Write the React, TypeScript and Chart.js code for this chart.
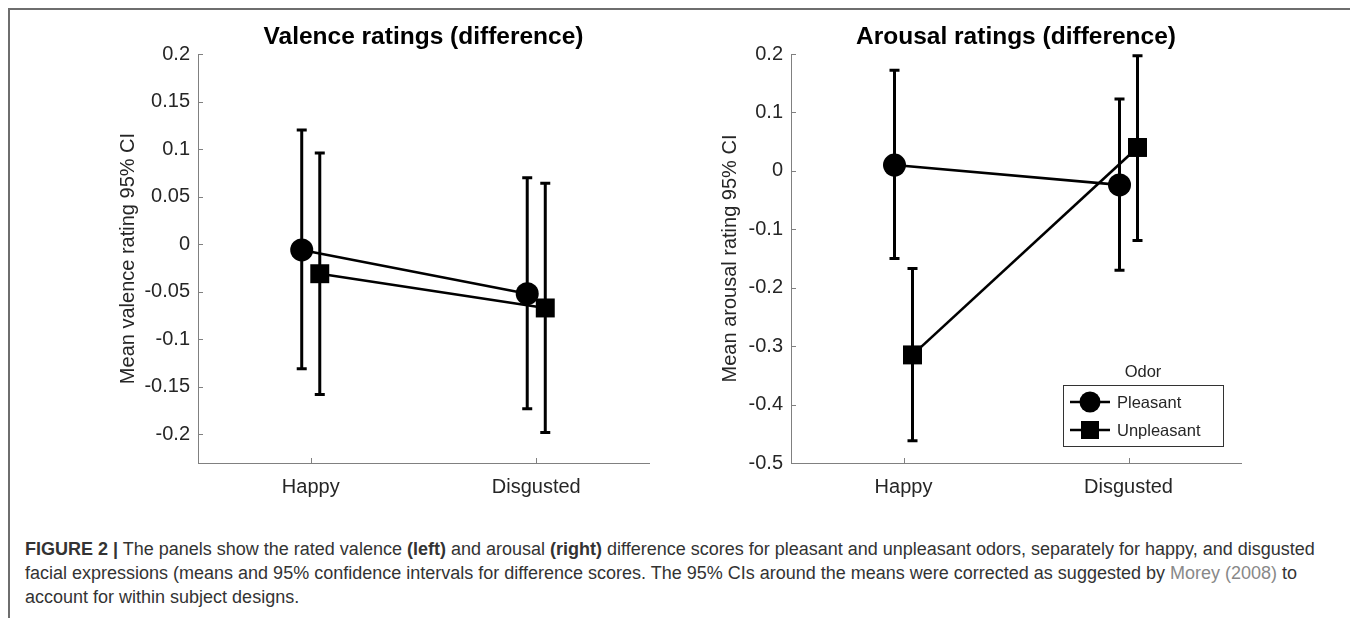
import React, { useEffect, useRef } from "react";
import { Chart, registerables } from "chart.js";

Chart.register(...registerables);

// ---------- data ----------
const CATEGORIES = ["Happy", "Disgusted"];
const CATEGORY_POS = [1, 2];
const X_MIN = 0.5;
const X_MAX = 2.5;
const GROUP_OFFSET = [-0.04, 0.04];
const SERIES_NAMES = ["Pleasant", "Unpleasant"];
const LEGEND_TITLE = "Odor";

const VALENCE_PLEASANT_MEAN = [-0.006, -0.052];
const VALENCE_PLEASANT_LOW = [-0.131, -0.173];
const VALENCE_PLEASANT_HIGH = [0.12, 0.07];
const VALENCE_UNPLEASANT_MEAN = [-0.031, -0.067];
const VALENCE_UNPLEASANT_LOW = [-0.158, -0.198];
const VALENCE_UNPLEASANT_HIGH = [0.096, 0.064];

const AROUSAL_PLEASANT_MEAN = [0.01, -0.024];
const AROUSAL_PLEASANT_LOW = [-0.15, -0.17];
const AROUSAL_PLEASANT_HIGH = [0.172, 0.123];
const AROUSAL_UNPLEASANT_MEAN = [-0.315, 0.04];
const AROUSAL_UNPLEASANT_LOW = [-0.462, -0.119];
const AROUSAL_UNPLEASANT_HIGH = [-0.167, 0.197];

const VALENCE_TICKS = [-0.2, -0.15, -0.1, -0.05, 0, 0.05, 0.1, 0.15, 0.2];
const VALENCE_TICK_LABELS = ["-0.2", "-0.15", "-0.1", "-0.05", "0", "0.05", "0.1", "0.15", "0.2"];
const VALENCE_Y_MIN = -0.23;
const VALENCE_Y_MAX = 0.2;

const AROUSAL_TICKS = [-0.5, -0.4, -0.3, -0.2, -0.1, 0, 0.1, 0.2];
const AROUSAL_TICK_LABELS = ["-0.5", "-0.4", "-0.3", "-0.2", "-0.1", "0", "0.1", "0.2"];
const AROUSAL_Y_MIN = -0.5;
const AROUSAL_Y_MAX = 0.2;

// ---------- styles ----------
const FONT = '"Liberation Sans", Arial, Helvetica, sans-serif';
const AXIS_COLOR = "#808080";
const TEXT_COLOR = "#262626";
const CAP = 5;

const errorBarPlugin = {
  id: "errorBars",
  beforeDatasetsDraw(chart: any) {
    const { ctx } = chart;
    const xs = chart.scales.x;
    const ys = chart.scales.y;
    ctx.save();
    ctx.strokeStyle = "#000";
    ctx.lineWidth = 3;
    chart.data.datasets.forEach((ds: any) => {
      ds.data.forEach((pt: any, i: number) => {
        const px = xs.getPixelForValue(pt.x);
        const yl = ys.getPixelForValue(ds.errLow[i]);
        const yh = ys.getPixelForValue(ds.errHigh[i]);
        ctx.beginPath();
        ctx.moveTo(px, yl);
        ctx.lineTo(px, yh);
        ctx.moveTo(px - CAP, yl);
        ctx.lineTo(px + CAP, yl);
        ctx.moveTo(px - CAP, yh);
        ctx.lineTo(px + CAP, yh);
        ctx.stroke();
      });
    });
    ctx.restore();
  },
};

const inwardTicksPlugin = {
  id: "inwardTicks",
  beforeDatasetsDraw(chart: any) {
    const { ctx, chartArea } = chart;
    const xs = chart.scales.x;
    const ys = chart.scales.y;
    ctx.save();
    ctx.strokeStyle = AXIS_COLOR;
    ctx.lineWidth = 1;
    ctx.beginPath();
    xs.ticks.forEach((t: any) => {
      const px = Math.round(xs.getPixelForValue(t.value)) + 0.5;
      ctx.moveTo(px, chartArea.bottom);
      ctx.lineTo(px, chartArea.bottom - 5);
    });
    ys.ticks.forEach((t: any) => {
      const py = Math.round(ys.getPixelForValue(t.value)) + 0.5;
      ctx.moveTo(chartArea.left, py);
      ctx.lineTo(chartArea.left + 5, py);
    });
    ctx.stroke();
    ctx.restore();
  },
};

const panelTitlePlugin = {
  id: "panelTitle",
  afterDraw(chart: any, _args: any, opts: any) {
    const { ctx, chartArea } = chart;
    ctx.save();
    ctx.font = `bold 24.5px ${FONT}`;
    ctx.fillStyle = "#000";
    ctx.textAlign = "center";
    ctx.textBaseline = "middle";
    ctx.fillText(opts.text, (chartArea.left + chartArea.right) / 2, chartArea.top - 17);
    ctx.restore();
  },
};

function drawMarker(ctx: CanvasRenderingContext2D, style: string, x: number, y: number) {
  ctx.beginPath();
  if (style === "circle") {
    ctx.arc(x, y, 10.5, 0, Math.PI * 2);
  } else {
    ctx.rect(x - 9, y - 9, 18, 18);
  }
  ctx.fill();
}

const odorLegendPlugin = {
  id: "odorLegend",
  afterDraw(chart: any, _args: any, opts: any) {
    if (!opts.show) return;
    const { ctx, chartArea } = chart;
    const L = chartArea.left;
    const T = chartArea.top;
    ctx.save();
    ctx.fillStyle = TEXT_COLOR;
    ctx.font = `16.5px ${FONT}`;
    ctx.textAlign = "center";
    ctx.textBaseline = "middle";
    ctx.fillText(LEGEND_TITLE, L + 352, T + 318);
    ctx.fillStyle = "#fff";
    ctx.fillRect(L + 272, T + 331, 160, 61);
    ctx.strokeStyle = "#333";
    ctx.lineWidth = 1;
    ctx.strokeRect(L + 272.5, T + 331.5, 160, 61);
    chart.data.datasets.forEach((ds: any, i: number) => {
      const y = T + 348 + i * 28;
      ctx.strokeStyle = "#000";
      ctx.lineWidth = 2.6;
      ctx.beginPath();
      ctx.moveTo(L + 279, y);
      ctx.lineTo(L + 319, y);
      ctx.stroke();
      ctx.fillStyle = "#000";
      drawMarker(ctx, ds.pointStyle, L + 299, y);
      ctx.fillStyle = TEXT_COLOR;
      ctx.font = `16.5px ${FONT}`;
      ctx.textAlign = "left";
      ctx.fillText(ds.label, L + 326, y + 1);
    });
    ctx.restore();
  },
};

type Series = { mean: number[]; low: number[]; high: number[]; style: string };

type PanelProps = {
  title: string;
  yTitle: string;
  series: Series[];
  ticks: number[];
  tickLabels: string[];
  yMin: number;
  yMax: number;
  padding: { left: number; right: number; top: number; bottom: number };
  yTitlePad: number;
  showLegend: boolean;
  left: number;
  width: number;
};

function Panel(p: PanelProps) {
  const ref = useRef<HTMLCanvasElement>(null);
  useEffect(() => {
    const canvas = ref.current!;
    const datasets = p.series.map((s, si) => ({
      label: SERIES_NAMES[si],
      data: CATEGORY_POS.map((c, i) => ({ x: c + GROUP_OFFSET[si], y: s.mean[i] })),
      errLow: s.low,
      errHigh: s.high,
      showLine: true,
      borderColor: "#000",
      backgroundColor: "#000",
      borderWidth: 2.6,
      pointStyle: s.style,
      pointRadius: s.style === "circle" ? 11.5 : 13.4,
      pointBorderWidth: 0,
      pointBackgroundColor: "#000",
      pointBorderColor: "#000",
    }));
    const chart = new Chart(canvas, {
      type: "scatter",
      data: { datasets } as any,
      options: {
        animation: false,
        responsive: false,
        maintainAspectRatio: false,
        events: [],
        layout: { padding: p.padding },
        plugins: {
          legend: { display: false },
          tooltip: { enabled: false },
          title: { display: false },
          panelTitle: { text: p.title },
          odorLegend: { show: p.showLegend },
        } as any,
        scales: {
          x: {
            type: "linear",
            min: X_MIN,
            max: X_MAX,
            afterBuildTicks: (s: any) => {
              s.ticks = CATEGORY_POS.map((v) => ({ value: v }));
            },
            afterFit: (s: any) => {
              s.height = 40;
            },
            ticks: {
              callback: (_v: any, i: number) => CATEGORIES[i],
              font: { family: FONT, size: 20 },
              color: TEXT_COLOR,
              padding: 12,
              maxRotation: 0,
              autoSkip: false,
            },
            grid: { display: false, drawTicks: false },
            border: { display: true, color: AXIS_COLOR, width: 1 },
          },
          y: {
            type: "linear",
            min: p.yMin,
            max: p.yMax,
            afterBuildTicks: (s: any) => {
              s.ticks = p.ticks.map((v) => ({ value: v }));
            },
            afterFit: (s: any) => {
              s.width = 90;
            },
            ticks: {
              callback: (_v: any, i: number) => p.tickLabels[i],
              font: { family: FONT, size: 20 },
              color: TEXT_COLOR,
              padding: 8,
              autoSkip: false,
            },
            grid: { display: false, drawTicks: false },
            border: { display: true, color: AXIS_COLOR, width: 1 },
            title: {
              display: true,
              text: p.yTitle,
              font: { family: FONT, size: 20 },
              color: TEXT_COLOR,
              padding: { top: p.yTitlePad, bottom: 0 },
            },
          },
        },
      } as any,
      plugins: [errorBarPlugin, inwardTicksPlugin, panelTitlePlugin, odorLegendPlugin] as any,
    });
    return () => chart.destroy();
  }, []);
  return (
    <canvas
      ref={ref}
      width={p.width}
      height={500}
      style={{ position: "absolute", left: p.left, top: 0, width: p.width, height: 500 }}
    />
  );
}

export default function App() {
  return (
    <div
      style={{
        position: "relative",
        width: 1344,
        height: 620,
        borderTop: "2px solid #6e6e6e",
        borderLeft: "2px solid #6e6e6e",
        borderRight: "2px solid #7a7a7a",
        background: "#fff",
        overflow: "hidden",
      }}
    >
      <Panel
        title="Valence ratings (difference)"
        yTitle="Mean valence rating 95% CI"
        series={[
          { mean: VALENCE_PLEASANT_MEAN, low: VALENCE_PLEASANT_LOW, high: VALENCE_PLEASANT_HIGH, style: "circle" },
          { mean: VALENCE_UNPLEASANT_MEAN, low: VALENCE_UNPLEASANT_LOW, high: VALENCE_UNPLEASANT_HIGH, style: "rect" },
        ]}
        ticks={VALENCE_TICKS}
        tickLabels={VALENCE_TICK_LABELS}
        yMin={VALENCE_Y_MIN}
        yMax={VALENCE_Y_MAX}
        padding={{ left: 98, right: 31, top: 44, bottom: 7 }}
        yTitlePad={8}
        showLegend={false}
        left={0}
        width={670}
      />
      <Panel
        title="Arousal ratings (difference)"
        yTitle="Mean arousal rating 95% CI"
        series={[
          { mean: AROUSAL_PLEASANT_MEAN, low: AROUSAL_PLEASANT_LOW, high: AROUSAL_PLEASANT_HIGH, style: "circle" },
          { mean: AROUSAL_UNPLEASANT_MEAN, low: AROUSAL_UNPLEASANT_LOW, high: AROUSAL_UNPLEASANT_HIGH, style: "rect" },
        ]}
        ticks={AROUSAL_TICKS}
        tickLabels={AROUSAL_TICK_LABELS}
        yMin={AROUSAL_Y_MIN}
        yMax={AROUSAL_Y_MAX}
        padding={{ left: 11, right: 109, top: 44, bottom: 7 }}
        yTitlePad={17}
        showLegend={true}
        left={680}
        width={660}
      />
      <div
        style={{
          position: "absolute",
          left: 15,
          top: 527,
          font: `18px ${FONT}`,
          lineHeight: "24px",
          color: "#333",
          whiteSpace: "nowrap",
        }}
      >
        <div>
          <b>FIGURE 2 |</b> The panels show the rated valence <b>(left)</b> and arousal <b>(right)</b> difference
          scores for pleasant and unpleasant odors, separately for happy, and disgusted
        </div>
        <div>
          facial expressions (means and 95% confidence intervals for difference scores. The 95% CIs around the means
          were corrected as suggested by <span style={{ color: "#888" }}>Morey (2008)</span> to
        </div>
        <div>account for within subject designs.</div>
      </div>
    </div>
  );
}
